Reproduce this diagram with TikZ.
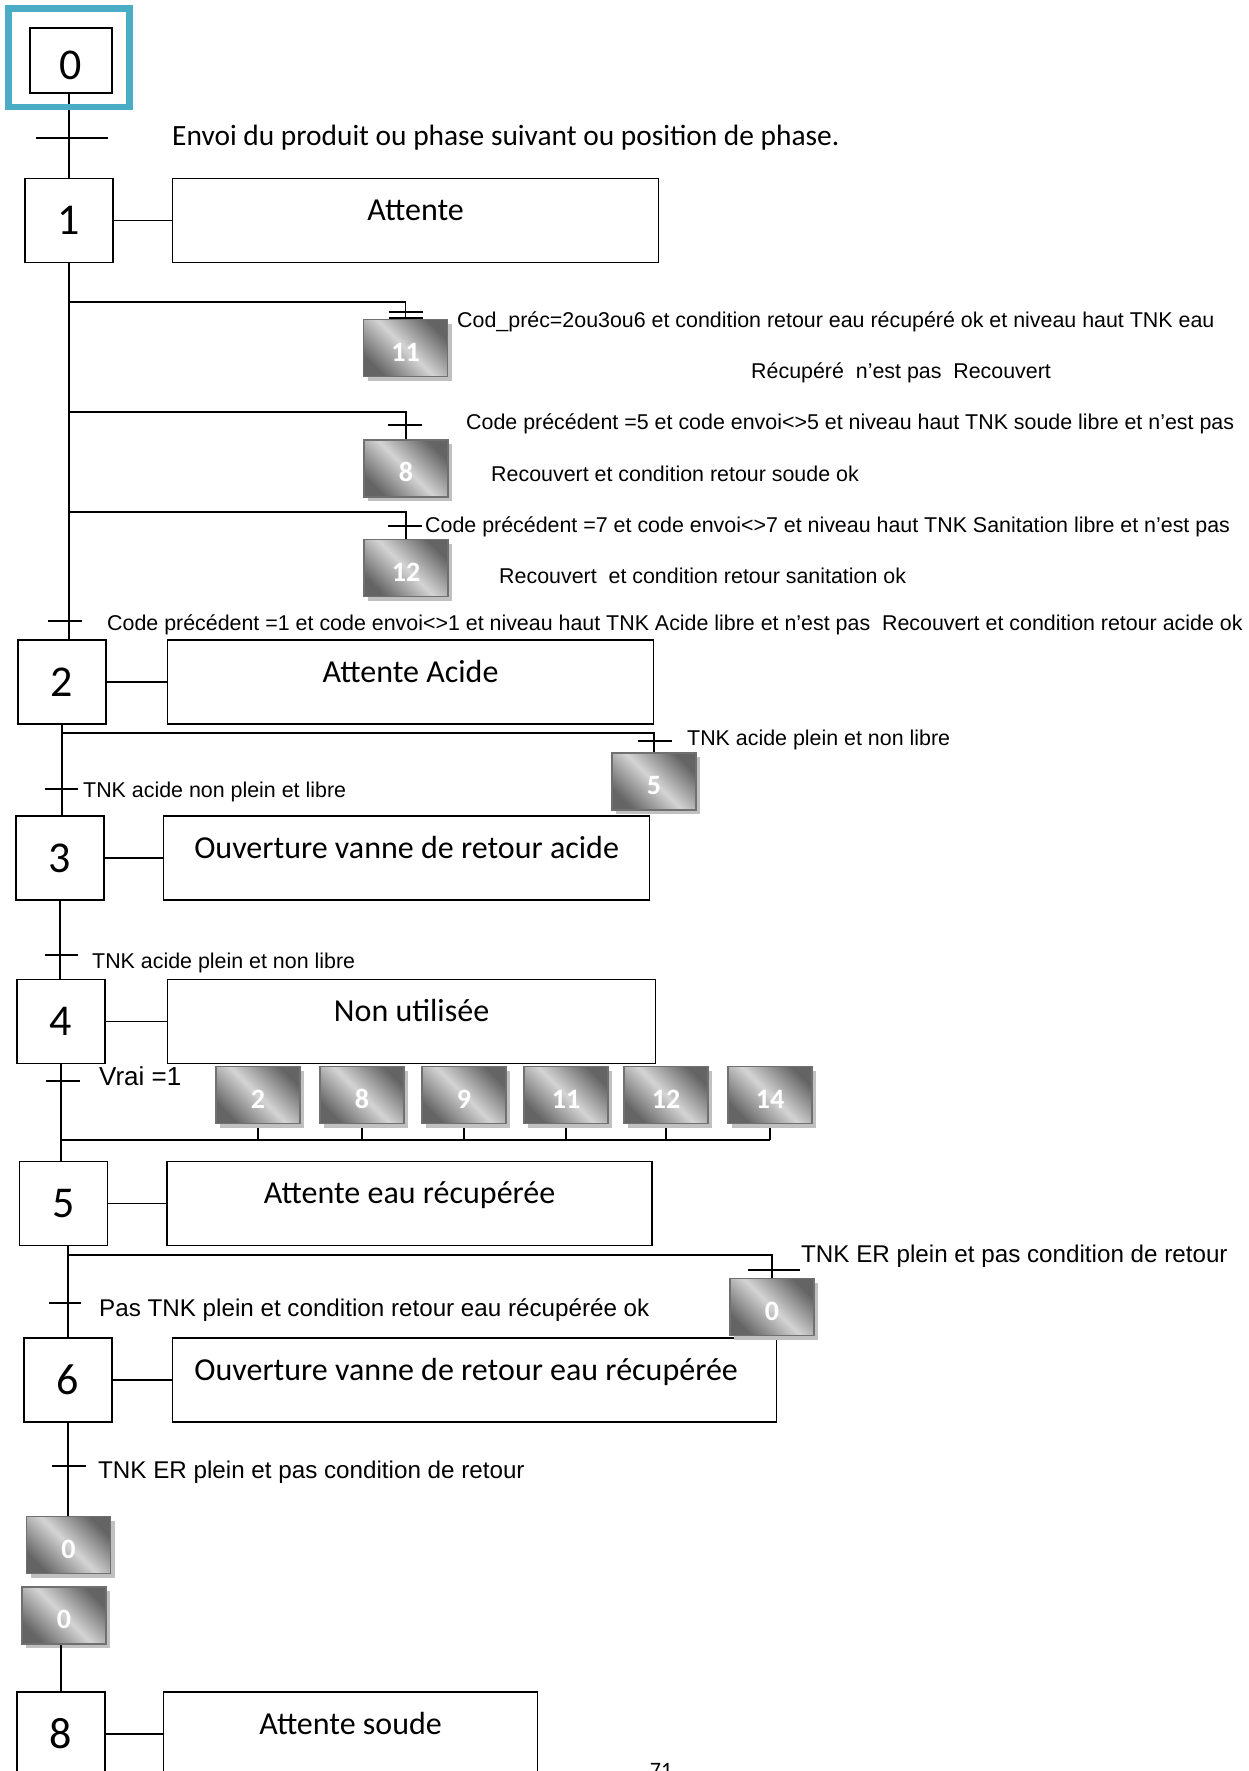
\documentclass[tikz,border=0pt]{standalone}
\usepackage{fontspec}
\setmainfont{Carlito}
\newfontfamily\condfont{Liberation Sans}
\usepackage{tikz}
\usetikzlibrary{positioning,shadows}

\definecolor{cadre}{RGB}{75,172,198}
\definecolor{grisfonce}{RGB}{100,100,100}
\definecolor{grisclair}{RGB}{212,212,212}
\definecolor{grisbord}{RGB}{112,112,112}
\definecolor{ombre}{RGB}{192,192,192}

\tikzset{
  lien/.style={line width=1.6pt},
  recept/.style={line width=1.6pt},
  etape/.style={draw, line width=1.6pt, minimum width=88pt, minimum height=84pt,
    inner sep=0pt, font=\fontsize{44}{48}\selectfont},
  action/.style={draw, line width=1.6pt, minimum width=486pt, inner xsep=0pt,
    inner ysep=10pt, text height=32pt, text depth=32pt,
    font=\fontsize{32}{36}\selectfont},
  renvoi/.style={draw=grisbord, line width=1.6pt, minimum width=84pt,
    minimum height=57pt, inner sep=0pt, text=white, text height=26pt, text depth=0pt,
    font=\bfseries\fontsize{28}{32}\selectfont,
    left color=grisfonce, right color=grisfonce, middle color=grisclair,
    shading angle=135,
    drop shadow={shadow xshift=4pt, shadow yshift=-4pt, fill=ombre, opacity=1}},
  cond/.style={anchor=base west, inner sep=0pt,
    font=\condfont\fontsize{21.4}{25}\selectfont},
  condgrand/.style={cond, font=\condfont\fontsize{24.2}{28}\selectfont},
}

\begin{document}
\begin{tikzpicture}[x=1pt,y=-1pt]
    \path[use as bounding box, fill=white] (0,0) rectangle (1249,1771);

    % Etapes
    \node[etape, minimum width=82pt, minimum height=65pt, text height=39pt, text depth=0pt] (s0) at (71,60.5) {0};
    \node[etape] (s1) at (69,220.5) {1};
    \node[etape] (s2) at (62,682) {2};
    \node[etape] (s3) at (60,858) {3};
    \node[etape] (s4) at (61,1021.5) {4};
    \node[etape] (s5) at (63.5,1203.5) {5};
    \node[etape] (s6) at (68,1380) {6};
    \node[etape] (s8) at (61,1734) {8};

    % Actions
    \node[action, right=58pt of s1] (a1) {Attente};
    \node[action, right=60pt of s2] (a2) {Attente Acide};
    \node[action, right=58pt of s3] (a3) {Ouverture vanne de retour acide};
    \node[action, right=61pt of s4, minimum width=488pt] (a4) {Non utilisée};
    \node[action, right=58pt of s5, minimum width=485pt] (a5) {Attente eau récupérée};
    \node[action, right=59pt of s6, minimum width=604pt] (a6) {Ouverture vanne de retour eau récupérée\hspace*{17pt}};
    \node[action, right=57pt of s8, minimum width=374pt] (a8) {Attente soude};
    \foreach \n in {1,2,3,4,5,6,8}
        \draw[lien] (s\n) -- (a\n);

    % Renvois
    \node[renvoi] (r11) at (405.5,348) {11};
    \node[renvoi] (r8) at (406,468.5) {8};
    \node[renvoi] (r12) at (406,568) {12};
    \node[renvoi] (r5) at (654,781.5) {5};
    \foreach \n/\x in {2/258,8/362,9/464,11/566,12/666,14/770}
        \node[renvoi] (c\n) at (\x,1095) {\n};
    \node[renvoi] (r0) at (772,1307) {0};
    \node[renvoi] (r0a) at (68.5,1545) {0};
    \node[renvoi] (r0b) at (64,1615.5) {0};

    % Liaisons
    \draw[lien] (s1.north |- s0.south) -- (s1.north);
    \draw[cadre, line width=6.5pt] (s0.north west) ++(-20.5,-18.5) rectangle ++(121,98.3);
    \draw[lien] (s1.south) -- (s1.south |- s2.north);
    \draw[lien] (s2.south) -- (s2.south |- s3.north);
    \draw[lien] (s3.south) -- (s3.south |- s4.north);
    \draw[lien] (s4.south) -- (s4.south |- s5.north);
    \draw[lien] (s6.north |- s5.south) -- (s6.north);
    \draw[lien] (s6.south) -- (s6.south |- r0a.north);
    \draw[lien] (s8.north |- r0b.south) -- (s8.north);

    % Divergences en OU
    \coordinate (b11) at (69,302);
    \coordinate (b8) at (69,412);
    \coordinate (b12) at (68,512);
    \coordinate (b5) at (62,733);
    \coordinate (b0) at (67,1255);
    \draw[lien] (b11) -| (r11.north);
    \draw[lien] (b8) -| (r8.north);
    \draw[lien] (b12) -| (r12.north);
    \draw[lien] (b5) -| (r5.north);
    \draw[lien] (b0) -| (r0.north);

    % Convergence vers l'etape 5
    \coordinate (j45) at (61,1140);
    \draw[lien] (j45) -- (j45 -| c14.south);
    \foreach \n in {2,8,9,11,12,14}
        \draw[lien] ([yshift=-4pt]c\n.south) -- (c\n.south |- j45);

    % Receptivites
    \coordinate (t01) at (69,138);
    \coordinate (t12) at (68,621);
    \coordinate (t23) at (62,789);
    \coordinate (t34) at (61,955);
    \coordinate (t45) at (61,1081);
    \coordinate (t56) at (67,1303);
    \coordinate (t60) at (68,1466);
    \draw[recept] (t01) ++(-33,0) -- ++(72,0);
    \draw[recept] (t12) ++(-20,0) -- ++(34,0);
    \draw[recept] (t23) ++(-17,0) -- ++(33,0);
    \draw[recept] (t34) ++(-16,0) -- ++(33,0);
    \draw[recept] (t45) ++(-15,0) -- ++(34,0);
    \draw[recept] (t56) ++(-18,0) -- ++(32,0);
    \draw[recept] (t60) ++(-16,0) -- ++(34,0);
    \draw[recept] (r11.north) ++(-17,-7) -- ++(34,0) ++(-34,6) -- ++(34,0);
    \draw[recept] (r8.north) ++(-18,-14) -- ++(34,0);
    \draw[recept] (r12.north) ++(-18,-13) -- ++(34,0);
    \draw[recept] (r5.north) ++(-16,-11) -- ++(34,0);
    \draw[recept] (r0.north) ++(-24,-8) -- ++(52,0);

    % Conditions
    \node[cond, font=\fontsize{29.4}{34}\selectfont] (e01) at (172,146) {Envoi du produit ou phase suivant ou position de phase.};
    \node[cond] (e11a) at (457,327) {Cod\_préc=2ou3ou6 et condition retour eau récupéré ok et niveau haut TNK eau};
    \node[cond] (e11b) at (751,378) {Récupéré\ \ n’est pas\ \ Recouvert};
    \node[cond] (e8a) at (466,429) {Code précédent =5 et code envoi<>5 et niveau haut TNK soude libre et n’est pas};
    \node[cond] (e8b) at (491,481) {Recouvert et condition retour soude ok};
    \node[cond] (e12a) at (425,532) {Code précédent =7 et code envoi<>7 et niveau haut TNK Sanitation libre et n’est pas};
    \node[cond] (e12b) at (499,583) {Recouvert\ \ et condition retour sanitation ok};
    \node[cond] (e12) at (107,630) {Code précédent =1 et code envoi<>1 et niveau haut TNK Acide libre et n’est pas\ \ Recouvert et condition retour acide ok};
    \node[cond] (e25) at (687,745) {TNK acide plein et non libre};
    \node[cond] (e23) at (83,797) {TNK acide non plein et libre};
    \node[cond] (e34) at (92,968) {TNK acide plein et non libre};
    \node[condgrand, font=\condfont\fontsize{26}{30}\selectfont] (e45) at (99,1085) {Vrai =1};
    \node[condgrand] (e50) at (801,1262) {TNK ER plein et pas condition de retour};
    \node[condgrand] (e56) at (99,1316) {Pas TNK plein et condition retour eau récupérée ok};
    \node[condgrand] (e60) at (98,1478) {TNK ER plein et pas condition de retour};

    % Numero de page
    \node[anchor=base, inner sep=0pt, font=\fontsize{22}{26}\selectfont] (page) at (661,1777) {71};
\end{tikzpicture}
\end{document}
